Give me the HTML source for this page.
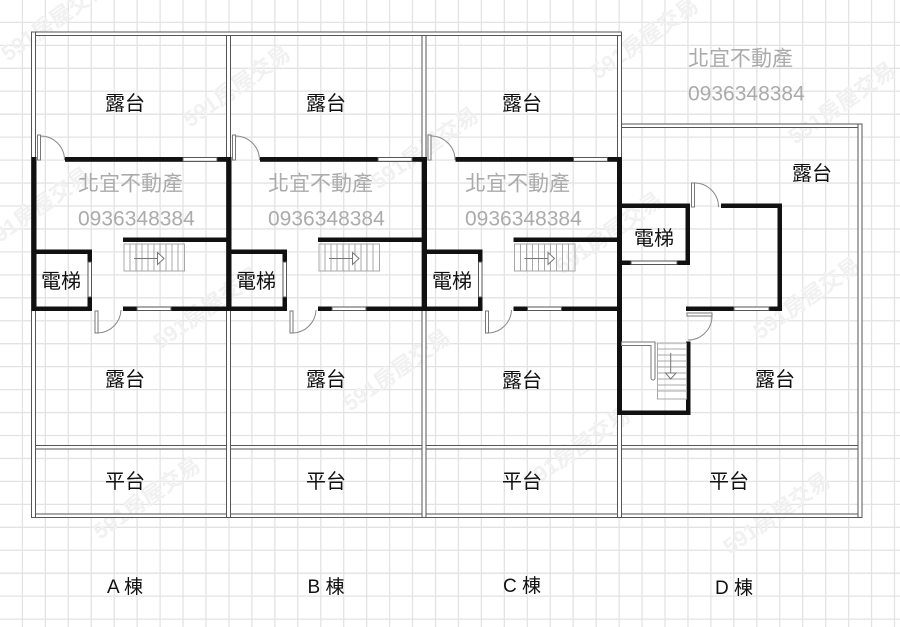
<!DOCTYPE html>
<html><head><meta charset="utf-8">
<style>
html,body{margin:0;padding:0;background:#fff;}
svg{display:block;}
text{font-family:"Liberation Sans","Noto Sans CJK TC",sans-serif;}
</style></head>
<body>
<svg width="900" height="627" viewBox="0 0 900 627" xmlns="http://www.w3.org/2000/svg">
<rect width="900" height="627" fill="#fff"/>
<!-- grid -->
<path stroke="#e3e3e3" stroke-width="1.3" fill="none" d="
M22.4 0V627M45.35 0V627M68.3 0V627M91.25 0V627M114.2 0V627M137.15 0V627M160.1 0V627M183.05 0V627M206 0V627M228.95 0V627
M251.9 0V627M274.85 0V627M297.8 0V627M320.75 0V627M343.7 0V627M366.65 0V627M389.6 0V627M412.55 0V627M435.5 0V627M458.45 0V627
M481.4 0V627M504.35 0V627M527.3 0V627M550.25 0V627M573.2 0V627M596.15 0V627M619.1 0V627M642.05 0V627M665 0V627M687.95 0V627
M710.9 0V627M733.85 0V627M756.8 0V627M779.75 0V627M802.7 0V627M825.65 0V627M848.6 0V627M871.55 0V627M894.5 0V627
M0 22.4H900M0 45.35H900M0 68.3H900M0 91.25H900M0 114.2H900M0 137.15H900M0 160.1H900M0 183.05H900M0 206H900M0 228.95H900
M0 251.9H900M0 274.85H900M0 297.8H900M0 320.75H900M0 343.7H900M0 366.65H900M0 389.6H900M0 412.55H900M0 435.5H900M0 458.45H900
M0 481.4H900M0 504.35H900M0 527.3H900M0 550.25H900M0 573.2H900M0 596.15H900M0 619.1H900"/>

<!-- faint 591 watermarks -->
<g fill="#f1f1f1" font-size="22" font-weight="bold">
<text transform="translate(8,62) rotate(-35)">591房屋交易</text>
<text transform="translate(190,128) rotate(-35)">591房屋交易</text>
<text transform="translate(378,190) rotate(-35)">591房屋交易</text>
<text transform="translate(598,80) rotate(-35)">591房屋交易</text>
<text transform="translate(562,275) rotate(-35)">591房屋交易</text>
<text transform="translate(350,412) rotate(-35)">591房屋交易</text>
<text transform="translate(160,350) rotate(-35)">591房屋交易</text>
<text transform="translate(-10,250) rotate(-35)">591房屋交易</text>
<text transform="translate(760,340) rotate(-35)">591房屋交易</text>
<text transform="translate(795,145) rotate(-35)">591房屋交易</text>
<text transform="translate(530,490) rotate(-35)">591房屋交易</text>
<text transform="translate(730,555) rotate(-35)">591房屋交易</text>
<text transform="translate(100,540) rotate(-35)">591房屋交易</text>
</g>

<!-- double-line outer walls -->
<g fill="#fff" stroke="#555" stroke-width="1">
<rect x="31.5" y="32" width="590" height="3.5"/>
<rect x="617.5" y="124" width="244.5" height="3.5"/>
<rect x="31.5" y="445.5" width="830.5" height="3.5"/>
<rect x="31.5" y="514" width="830.5" height="3.5"/>
<rect x="31.5" y="32" width="4" height="485.5"/>
<rect x="226.5" y="35.5" width="4" height="482"/>
<rect x="422" y="35.5" width="4" height="482"/>
<rect x="617.5" y="35.5" width="4" height="482"/>
<rect x="858" y="124" width="4" height="393.5"/>
</g>

<!-- dividers black portions -->
<g fill="#111">
<rect x="31.5" y="157" width="5" height="154"/>
<rect x="226.5" y="157" width="5" height="154"/>
<rect x="422" y="157" width="5" height="154"/>
<rect x="617" y="157" width="5" height="258"/>
</g>

<defs>
<g id="bld">
  <g fill="#111">
    <rect x="65" y="157" width="162" height="4.8"/>
    <rect x="31.5" y="249.5" width="60.5" height="4.5"/>
    <rect x="87.5" y="249.5" width="4.5" height="61.5"/>
    <rect x="31.5" y="306.5" width="60.5" height="4.5"/>
    <rect x="123" y="237.5" width="104" height="4.5"/>
    <rect x="123" y="306.5" width="104" height="4.5"/>
  </g>
  <g fill="#fff" stroke="#555" stroke-width="1">
    <rect x="183" y="157.5" width="34" height="3.8"/>
    <rect x="88" y="262" width="3.5" height="35"/>
    <rect x="137" y="307" width="34" height="3.5"/>
  </g>
  <g fill="#fff" stroke="#777" stroke-width="1">
    <rect x="37.5" y="135" width="3" height="25"/>
    <rect x="95" y="311" width="3" height="22"/>
  </g>
  <g fill="none" stroke="#888" stroke-width="1">
    <path d="M40.5 136 A24 24 0 0 1 64.5 160"/>
    <path d="M98 333 A24 24 0 0 0 121 310"/>
  </g>
  <g fill="none" stroke="#a8a8a8" stroke-width="1">
    <rect x="124" y="244" width="60.5" height="27"/>
    <path d="M130 244V271M136 244V271M142 244V271M148 244V271M154 244V271M160 244V271M166 244V271M172 244V271M178 244V271"/>
  </g>
  <g fill="#fff" stroke="#777" stroke-width="1">
    <path d="M134 258.5H158" fill="none"/>
    <polygon points="157.5,252.5 164,258.5 157.5,264.5"/>
  </g>
</g>
</defs>
<use href="#bld"/>
<use href="#bld" transform="translate(195,0)"/>
<use href="#bld" transform="translate(390.5,0)"/>

<!-- building D -->
<g fill="#111">
  <rect x="621" y="203.5" width="69" height="4.5"/>
  <rect x="685.5" y="203.5" width="4.5" height="61.5"/>
  <rect x="621" y="260.5" width="69" height="4.5"/>
  <rect x="721" y="203.5" width="61" height="4.5"/>
  <rect x="777.5" y="203.5" width="4.5" height="107.5"/>
  <rect x="686" y="306.5" width="96" height="4.5"/>
  <rect x="686" y="341.5" width="4.5" height="73.5"/>
  <rect x="617" y="410.5" width="73.5" height="4.5"/>
</g>
<g fill="#fff" stroke="#555" stroke-width="1">
  <rect x="631" y="261" width="46" height="3.5"/>
  <rect x="734" y="307" width="35" height="3.5"/>
</g>
<g fill="#fff" stroke="#777" stroke-width="1">
  <rect x="691.5" y="183" width="3" height="24"/>
  <rect x="687" y="313" width="25" height="3"/>
  <path d="M621.5 342H655V378a2 2 0 0 1 -4 0V345.5H621.5Z"/>
</g>
<g fill="none" stroke="#888" stroke-width="1">
  <path d="M694.5 183 A24 24 0 0 1 718.5 207"/>
  <path d="M712 316 A24 24 0 0 1 688 340"/>
</g>
<g fill="none" stroke="#a8a8a8" stroke-width="1">
  <rect x="657.5" y="343" width="29" height="56"/>
  <path d="M657.5 349H686.5M657.5 355H686.5M657.5 361H686.5M657.5 367H686.5M657.5 373H686.5M657.5 379H686.5M657.5 385H686.5M657.5 391H686.5"/>
</g>
<g fill="#fff" stroke="#777" stroke-width="1">
  <path d="M670.7 353V373" fill="none"/>
  <polygon points="665.5,373 676,373 670.7,379"/>
</g>

<!-- gray watermark text -->
<g fill="#ababab" font-size="21">
  <text x="78" y="190.5">北宜不動產</text>
  <text x="78" y="225.5">0936348384</text>
  <text x="268" y="190.5">北宜不動產</text>
  <text x="268" y="225.5">0936348384</text>
  <text x="465" y="190.5">北宜不動產</text>
  <text x="465" y="225.5">0936348384</text>
  <text x="688" y="65.5">北宜不動產</text>
  <text x="688" y="100.5">0936348384</text>
</g>

<!-- labels -->
<g fill="#111" font-size="20" text-anchor="middle">
  <text x="125" y="110">露台</text>
  <text x="326" y="110">露台</text>
  <text x="522" y="110">露台</text>
  <text x="125" y="386">露台</text>
  <text x="326" y="386">露台</text>
  <text x="522" y="387">露台</text>
  <text x="812" y="180">露台</text>
  <text x="775" y="386">露台</text>
  <text x="125" y="488">平台</text>
  <text x="326" y="488">平台</text>
  <text x="522" y="488">平台</text>
  <text x="729" y="488">平台</text>
  <text x="61" y="288">電梯</text>
  <text x="256" y="288">電梯</text>
  <text x="452" y="288">電梯</text>
  <text x="654" y="245">電梯</text>
</g>
<g fill="#111" font-size="19" text-anchor="middle">
  <text x="125" y="593">A 棟</text>
  <text x="326" y="593">B 棟</text>
  <text x="522" y="592">C 棟</text>
  <text x="734" y="594">D 棟</text>
</g>
</svg>
</body></html>
